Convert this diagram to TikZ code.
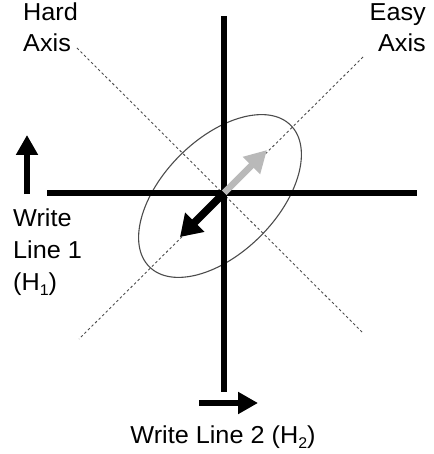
\documentclass[tikz,border=0pt]{standalone}
\usepackage{fontspec}
\setmainfont{Liberation Sans}[FakeStretch=1.03]
\usetikzlibrary{arrows.meta}
\newcommand{\lbsub}[1]{\raisebox{-0.22em}{\fontsize{15.5}{15.5}\selectfont #1}}
\begin{document}
\begin{tikzpicture}[x=1pt,y=-1pt,
  axisline/.style={line width=6.3pt,black},
  dashaxis/.style={line width=0.9pt,gray!60!black,dash pattern=on 2.5pt off 2.5pt},
  lbl/.style={inner sep=0pt,font=\fontsize{24.5}{30}\selectfont},
  fatarrow/.style={line width=6.5pt,-{Triangle[width=21pt,length=20pt]}}]
\useasboundingbox (0,0) rectangle (433,454);
\coordinate (O) at (224,193);
\coordinate (vt) at (224,16);
\coordinate (vb) at (224,392);
\coordinate (hl) at (47,193);
\coordinate (hr) at (417,193);
\coordinate (h1) at (77,48);
\coordinate (h2) at (363,333);
\coordinate (e1) at (363,57);
\coordinate (e2) at (79,339);
\coordinate (gt) at (267,150);
\coordinate (bt) at (180,237);
\coordinate (l1) at (27,194);
\coordinate (l2) at (27,135);
\coordinate (b1) at (199,403);
\coordinate (b2) at (258,403);
% dashed axes
\draw[dashaxis] (h1) -- (h2);
\draw[dashaxis] (e1) -- (e2);
% ellipse
\draw[line width=1.1pt,gray!60!black,rotate around={45:(220,196)}] (220,196) ellipse [x radius=100, y radius=57];
% write lines
\draw[axisline] (vt) -- (vb);
\draw[axisline] (hl) -- (hr);
% magnetization arrows
\draw[line width=6.5pt,gray!55,-{Triangle[width=23pt,length=22pt]}] (O) -- (gt);
\draw[line width=7.5pt,black,-{Triangle[width=26pt,length=21pt]}] (O) -- (bt);
% field arrows
\draw[fatarrow] (l1) -- (l2);
\draw[fatarrow] (b1) -- (b2);
% labels
\node[lbl,anchor=base west] (hard1) at (23,20.7) {Hard};
\node[lbl,anchor=base west] (hard2) at (23,52) {Axis};
\node[lbl,anchor=base east] (easy1) at (426,20.7) {Easy};
\node[lbl,anchor=base east] (easy2) at (426,52) {Axis};
\node[lbl,anchor=base west] (w1) at (13,226.7) {Write};
\node[lbl,anchor=base west] (w2) at (13,258) {Line 1};
\node[lbl,anchor=base west] (w3) at (13,290) {(H\lbsub{1})};
\node[lbl,anchor=base] (w4) at (223,443) {Write Line 2 (H\lbsub{2})};
\end{tikzpicture}
\end{document}
